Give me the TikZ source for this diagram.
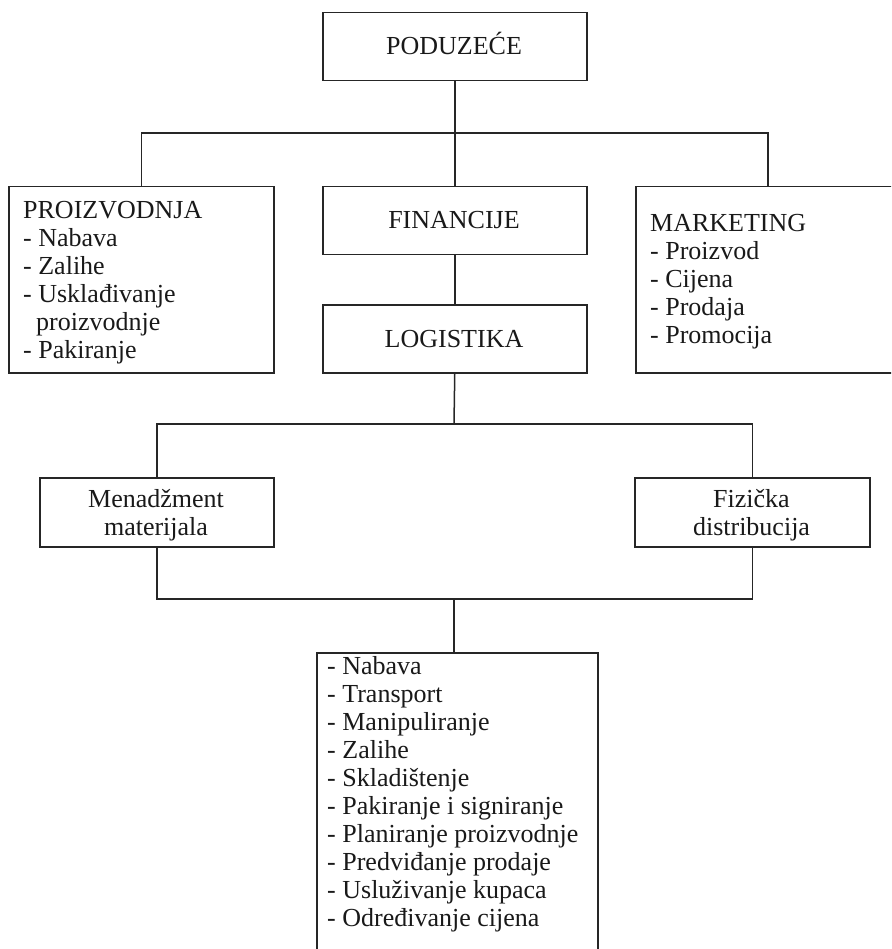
\documentclass[tikz,border=0pt]{standalone}
\usepackage{fontspec}
\setmainfont{Liberation Serif}
\begin{document}
\begin{tikzpicture}[x=1pt,y=-1pt,
  box/.style={draw=black!85, line width=1.5pt, inner sep=0pt, anchor=north west},
  wire/.style={draw=black!85, line width=1.5pt},
  txt/.style={font=\fontsize{26}{28}\selectfont, text=black!90, inner sep=0pt},
  title/.style={txt, anchor=base},
  list/.style={txt, align=left, anchor=base west},
  pair/.style={txt, align=center, anchor=base}]
\clip (0,0) rectangle (891,949);

% boxes
\node[box, minimum width=264pt, minimum height=68pt]  (pod)  at (322,12)  {};
\node[box, minimum width=265pt, minimum height=186pt] (pro)  at (8,186)   {};
\node[box, minimum width=264pt, minimum height=68pt]  (fin)  at (322,186) {};
\node[box, minimum width=264pt, minimum height=186pt] (mar)  at (635,186) {};
\node[box, minimum width=264pt, minimum height=68pt]  (log)  at (322,304) {};
\node[box, minimum width=234pt, minimum height=69pt]  (men)  at (39,477)  {};
\node[box, minimum width=235pt, minimum height=69pt]  (fiz)  at (634,477) {};
\node[box, minimum width=281pt, minimum height=320pt] (task) at (316,652) {};

% texts (multi-line nodes are placed by the baseline of their last line)
\node[title] (podt) at (454,55)  {PODUZEĆE};
\node[title] (fint) at (454,229) {FINANCIJE};
\node[title] (logt) at (454,347) {LOGISTIKA};
\node[list]  (prot) at (23,358)  {PROIZVODNJA\\- Nabava\\- Zalihe\\- Usklađivanje\\\hspace*{0.5em}proizvodnje\\- Pakiranje};
\node[list]  (mart) at (650,343) {MARKETING\\- Proizvod\\- Cijena\\- Prodaja\\- Promocija};
\node[pair]  (ment) at (156,535) {Menadžment\\materijala};
\node[pair]  (fizt) at (751.5,535) {Fizička\\distribucija};
\node[list]  (taskt) at (327,926) {- Nabava\\- Transport\\- Manipuliranje\\- Zalihe\\- Skladištenje\\- Pakiranje i signiranje\\- Planiranje proizvodnje\\- Predviđanje prodaje\\- Usluživanje kupaca\\- Određivanje cijena};

% connectors
\coordinate (bus1) at (454,133);
\coordinate (bus2) at (454,424);
\coordinate (bus3) at (454,599);
\draw[wire] (pod.south) -- (fin.north);
\draw[wire] (pro.north) |- (bus1) -| (mar.north);
\draw[wire] (fin.south) -- (log.north);
\draw[wire] (log.south) -- (bus2);
\draw[wire] (men.north) |- (bus2) -| (fiz.north);
\draw[wire] (men.south) |- (bus3) -| (fiz.south);
\draw[wire] (bus3) -- (bus3 |- task.north);
\end{tikzpicture}
\end{document}
